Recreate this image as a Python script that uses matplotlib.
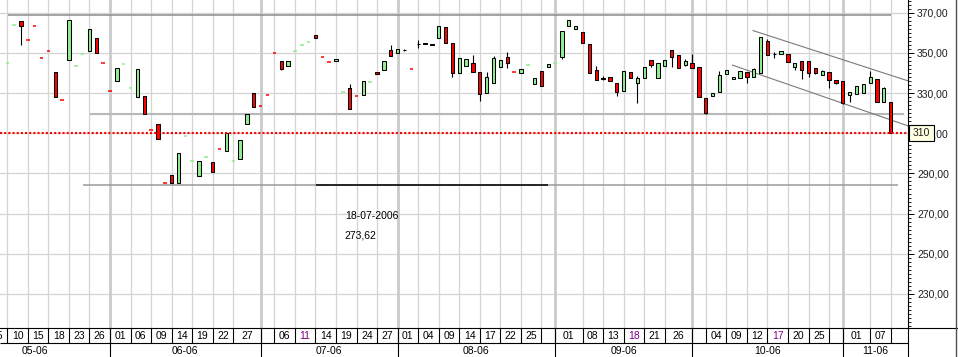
import matplotlib

matplotlib.use("Agg")
import matplotlib.pyplot as plt
import numpy as np
from matplotlib.patches import Rectangle

plt.rcParams.update({"font.family": ["Liberation Sans", "DejaVu Sans"], "font.size": 7.5})

# daily bars (bar index 0 = 10 May 2006)
opens = [344.8, 363.7, 365.7, 356.2, 363.2, 347.3, 350.8, 340.3, 326.4, 346.6,
         343.3, 349.3, 351.1, 357.2, 344.8, 330.9, 335.8, 344.3, 332.4, 328.2,
         328.4, 311.5, 314.4, 285.1, 289.1, 285.4, 308.5, 296.0, 288.9, 298.0,
         295.5, 302.0, 301.3, 296.0, 297.4, 314.8, 329.9, 323.4, 328.9, 349.8,
         345.8, 343.3, 350.8, 353.7, 355.2, 358.7, 347.8, 345.3, 346.1, 330.4,
         332.4, 328.4, 329.2, 335.3, 340.3, 341.6, 351.3, 350.1, 351.3, 341.8,
         354.5, 354.9, 354.3, 357.6, 362.7, 354.7, 340.1, 343.6, 344.8, 340.3,
         330.2, 335.2, 343.1, 347.8, 340.3, 340.1, 343.8, 334.7, 340.8, 343.1,
         344.8, 348.1, 363.2, 361.7, 360.2, 354.4, 341.3, 337.5, 337.9, 334.9,
         331.2, 340.3, 335.2, 337.3, 346.6, 337.3, 343.6, 351.3, 348.9, 344.1,
         345.0, 343.1, 327.4, 328.4, 330.4, 339.3, 336.8, 337.3, 340.6, 338.2,
         340.1, 355.7, 349.5, 349.3, 349.4, 343.1, 345.8, 345.8, 342.3, 339.2,
         340.5, 336.3, 336.0, 328.9, 329.4, 330.2, 334.9, 336.8, 325.4, 325.4]
highs = [344.8, 363.7, 365.7, 356.2, 363.2, 347.3, 350.8, 340.3, 326.4, 366.2,
         343.3, 349.3, 361.7, 357.2, 344.8, 330.9, 342.3, 344.3, 332.4, 341.8,
         328.4, 311.5, 314.4, 285.1, 289.1, 300.0, 308.5, 296.0, 296.0, 298.0,
         295.5, 302.0, 310.0, 296.0, 306.5, 319.4, 329.9, 323.4, 328.9, 349.8,
         345.8, 345.8, 350.8, 353.7, 355.2, 358.7, 347.8, 345.3, 347.1, 330.4,
         334.5, 328.4, 335.8, 335.3, 340.3, 345.8, 353.9, 351.8, 351.9, 341.8,
         356.4, 354.9, 354.3, 363.2, 362.7, 354.7, 347.3, 346.8, 348.9, 340.3,
         340.5, 348.4, 346.3, 350.4, 340.3, 341.8, 343.8, 337.3, 340.8, 344.3,
         344.8, 360.7, 366.2, 363.2, 360.2, 354.4, 343.5, 338.3, 337.9, 334.9,
         340.8, 340.3, 338.5, 342.8, 346.6, 344.8, 346.3, 351.3, 348.9, 346.8,
         349.3, 343.1, 327.4, 329.9, 341.1, 341.3, 338.1, 341.0, 340.6, 342.6,
         357.7, 356.9, 350.4, 350.8, 349.4, 344.8, 345.8, 345.8, 342.3, 341.5,
         340.5, 336.3, 336.0, 330.4, 333.3, 334.4, 341.1, 336.8, 332.9, 325.4]
lows = [344.8, 363.7, 354.1, 356.2, 363.2, 347.3, 350.8, 328.2, 326.4, 346.6,
        343.3, 349.3, 351.1, 349.8, 344.8, 330.9, 335.8, 344.3, 332.4, 328.2,
        319.8, 311.5, 307.3, 285.1, 285.4, 285.4, 308.5, 296.0, 288.9, 298.0,
        290.9, 302.0, 301.3, 296.0, 297.4, 314.8, 323.2, 323.4, 328.9, 349.8,
        341.5, 343.3, 350.8, 353.7, 355.2, 357.6, 347.8, 345.3, 346.1, 330.4,
        322.2, 328.4, 329.2, 335.3, 339.3, 341.6, 348.6, 350.1, 350.8, 341.8,
        352.6, 354.3, 353.8, 357.6, 355.1, 338.2, 340.1, 343.6, 340.6, 326.2,
        330.2, 335.2, 343.1, 342.6, 340.3, 340.1, 343.8, 334.7, 333.7, 343.1,
        344.8, 346.9, 363.2, 361.7, 355.1, 340.1, 336.3, 336.5, 336.2, 328.7,
        331.2, 337.3, 325.2, 337.3, 343.1, 337.3, 343.6, 343.1, 342.3, 343.5,
        342.6, 327.9, 319.8, 328.4, 330.4, 339.3, 336.8, 337.3, 335.2, 338.2,
        340.1, 348.8, 347.6, 349.3, 345.6, 341.3, 337.2, 337.8, 339.5, 338.8,
        332.4, 334.5, 324.6, 325.4, 329.4, 330.2, 334.9, 325.7, 325.4, 310.3]
closes = [344.8, 363.7, 363.5, 356.2, 363.2, 347.3, 350.8, 328.2, 326.4, 366.2,
          343.3, 349.3, 361.7, 349.8, 344.8, 330.9, 342.3, 344.3, 332.4, 341.8,
          319.8, 311.5, 307.3, 285.1, 285.4, 300.0, 308.5, 296.0, 296.0, 298.0,
          290.9, 302.0, 310.0, 296.0, 306.5, 319.4, 323.2, 323.4, 328.9, 349.8,
          342.0, 345.8, 350.8, 353.7, 355.2, 357.6, 347.8, 345.3, 347.1, 330.4,
          322.2, 328.4, 335.8, 335.3, 339.3, 345.8, 348.6, 351.8, 351.3, 341.8,
          354.5, 354.3, 353.8, 363.2, 355.1, 340.1, 347.3, 346.8, 340.6, 329.7,
          337.8, 347.3, 346.3, 345.1, 340.3, 341.8, 343.8, 337.3, 333.7, 344.3,
          344.8, 360.7, 366.2, 363.2, 355.1, 340.1, 336.3, 337.2, 336.2, 330.7,
          340.8, 337.3, 337.3, 342.8, 344.0, 344.8, 346.3, 348.1, 342.3, 345.8,
          342.6, 327.9, 320.2, 329.9, 339.1, 341.3, 338.1, 341.0, 338.1, 341.8,
          357.7, 348.8, 349.5, 350.8, 345.6, 344.8, 341.5, 340.1, 340.1, 341.0,
          336.5, 335.2, 324.9, 330.4, 333.3, 334.4, 338.1, 325.7, 332.4, 310.3]
# flat bars (O=H=L=C) drawn as a dash; these ones are red, the rest green
red_flats = [3, 4, 5, 6, 8, 14, 15, 21, 23, 31, 37, 38, 39, 46, 47, 51, 59, 74]

# time axis
day_ticks = [-3, 0, 3, 6, 9, 12, 15, 18, 21, 24, 27, 30, 33, 37, 39, 42, 45, 48,
             51, 54, 57, 60, 63, 66, 69, 72, 75, 78, 80, 84, 87, 90, 93, 96, 100,
             102, 105, 108, 111, 114, 117, 120, 122, 126, 129]
day_labels = ["05", "10", "15", "18", "23", "26", "01", "06", "09", "14", "19",
              "22", "27", "", "06", "11", "14", "19", "24", "27", "01", "04",
              "09", "14", "17", "22", "25", "", "01", "08", "13", "18", "21",
              "26", "", "04", "09", "12", "17", "20", "25", "", "01", "07", ""]
purple_days = [42, 90, 111]
month_starts = [15, 37, 57, 80, 100, 122]
month_labels = ["05-06", "06-06", "07-06", "08-06", "09-06", "10-06", "11-06"]
month_centres = [4, 26, 47, 68.5, 90, 111, 126.75]

# drawn study lines: (level, from bar, to bar)
levels = [(368.7, 0.1, 129.0, "#8c8c8c", 1.1),
          (319.75, 12.1, 130.9, "#b8b8b8", 1.5),
          (284.3, 11.1, 130.0, "#9a9a9a", 1.1),
          (284.3, 45.1, 79.0, "black", 1.1)]
channel_upper = ([108.9, 131.5], [361.1, 336.1])
channel_lower = ([105.9, 131.5], [343.9, 313.7])
last_price = 310.0

W, H = 958, 357
PLOT_R, PLOT_B = 908, 328.3
px_bar = 6.848
x_lo = -7.3 / px_bar
x_hi = (PLOT_R - 7.3) / px_bar
y_hi = 370 + 12.7 / 2.009
y_lo = 370 - (PLOT_B - 12.7) / 2.009

fig = plt.figure(figsize=(W / 100, H / 100), dpi=100)
ax = fig.add_axes([0, 1 - PLOT_B / H, PLOT_R / W, PLOT_B / H])
ax.set_xlim(x_lo, x_hi)
ax.set_ylim(y_lo, y_hi)

# grid
for y in range(230, 371, 20):
    ax.axhline(y, color="#d4d4d4", lw=0.9, zorder=0)
for b in day_ticks:
    if b not in month_starts:
        ax.axvline(b, color="#d4d4d4", lw=0.9, zorder=0)
for b in month_starts:
    ax.axvline(b, color="#cacaca", lw=2.0, zorder=0)

# level lines and channel
for lvl, b0, b1, col, lw in levels:
    ax.hlines(lvl, b0, b1, color=col, lw=lw, zorder=1)
ax.plot(*channel_upper, color="#7a7a7a", lw=0.8, zorder=1)
ax.plot(*channel_lower, color="#7a7a7a", lw=0.8, zorder=1)
ax.axhline(last_price, color="#ff0000", lw=1.5, ls=(0, (1, 1)), zorder=4)

# bars
o, h, l, c = (np.array(a) for a in (opens, highs, lows, closes))
idx = np.arange(len(o))
flat = (h == l)
cand = ~flat
ax.vlines(idx[cand], l[cand], h[cand], color="black", lw=0.8, zorder=2)
up = c >= o
body_col = np.where(up, "#90ee90", "#ff0000")
ax.bar(idx[cand], np.abs(c - o)[cand], bottom=np.minimum(o, c)[cand], width=0.48,
       color=body_col[cand], edgecolor="black", linewidth=0.75, zorder=3)
flat_col = ["#ff0000" if i in red_flats else "#90ee90" for i in idx[flat]]
ax.hlines(c[flat], idx[flat] - 0.26, idx[flat] + 0.26, colors=flat_col, lw=1.1, zorder=3)

ax.text(49.3, 268.8, "18-07-2006", ha="left", va="center", fontsize=7.5)
ax.text(49.3, 259.3, "273,62", ha="left", va="center", fontsize=7.5)

# right price axis
ax.yaxis.tick_right()
ax.set_yticks(range(230, 371, 20))
ax.set_yticklabels([f"{v},00" for v in range(230, 371, 20)], color="#1e1e1e")
ax.set_yticks(np.arange(214, 377, 2), minor=True)
ax.tick_params(axis="y", which="major", length=4, width=0.7, pad=2.5)
ax.tick_params(axis="y", which="minor", length=2, width=0.6)
ax.set_xticks([])
for side in ("top", "left", "bottom"):
    ax.spines[side].set_visible(False)
ax.spines["right"].set_linewidth(0.8)

# date strip
axb = fig.add_axes([0, 0, PLOT_R / W, (H - PLOT_B) / H])
axb.set_xlim(x_lo, x_hi)
strip_h = H - PLOT_B
axb.set_ylim(strip_h, 0)
axb.axis("off")
axb.hlines(15, x_lo, x_hi, color="black", lw=0.8)
ends = day_ticks[1:] + [x_hi]
for b, e, lab in zip(day_ticks, ends, day_labels):
    axb.vlines(b, 0, 15, color="black", lw=0.8)
    col = "#800080" if b in purple_days else "black"
    axb.text((b + e) / 2, 8, lab, ha="center", va="center", color=col, clip_on=True)
axb.vlines(month_starts, 0, strip_h, color="black", lw=0.8)
for xc, lab in zip(month_centres, month_labels):
    axb.text(xc, 22.5, lab, ha="center", va="center", clip_on=True)

# frame lines and last-price tag in pixel space
ov = fig.add_axes([0, 0, 1, 1], zorder=10)
ov.set_xlim(0, W)
ov.set_ylim(H, 0)
ov.axis("off")
ov.patch.set_alpha(0)
ov.plot([0, W], [PLOT_B, PLOT_B], color="black", lw=0.8)
ov.plot([PLOT_R, PLOT_R], [PLOT_B, H], color="black", lw=0.8)
ov.plot([W - 1.5, W - 1.5], [0, H], color="#505050", lw=1.0)
ov.add_patch(Rectangle((909, 125), 25, 16, facecolor="#ffffe1", edgecolor="black", lw=0.8))
ov.text(921.5, 133.2, f"{last_price:.0f}", ha="center", va="center", color="#1e1e1e")

fig.savefig("out.png", dpi=100)
plt.close(fig)
